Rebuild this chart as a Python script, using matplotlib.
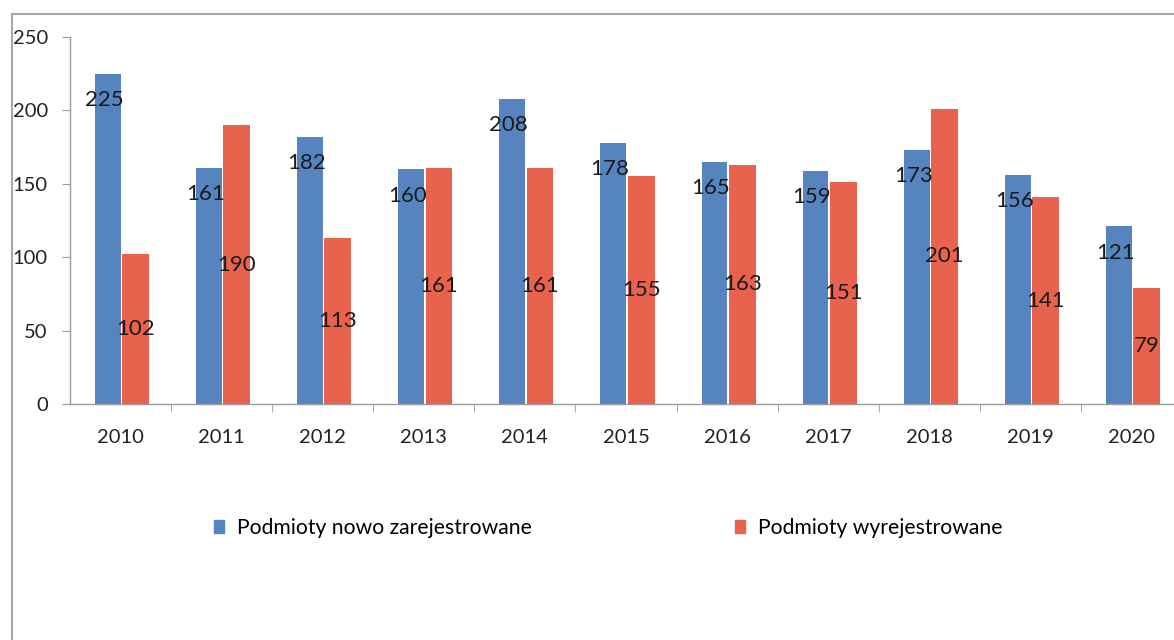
import matplotlib.pyplot as plt
from matplotlib.patches import Rectangle
import numpy as np

plt.rcParams['font.family'] = ['Lato', 'DejaVu Sans']

years = ['2010', '2011', '2012', '2013', '2014', '2015',
         '2016', '2017', '2018', '2019', '2020']
registered = [225, 161, 182, 160, 208, 178, 165, 159, 173, 156, 121]
deregistered = [102, 190, 113, 161, 161, 155, 163, 151, 201, 141, 79]

blue = '#5584BF'
red = '#E9624D'
gray = '#9a9a9a'

fig = plt.figure(figsize=(11.74, 6.4), dpi=100)
ax = fig.add_axes([70 / 1174, 1 - 404 / 640, 1112 / 1174, 367 / 640])

x = np.arange(len(years))
ax.bar(x - 0.125, registered, width=0.255, color=blue, zorder=2)
ax.bar(x + 0.15, deregistered, width=0.265, color=red, zorder=2)

for xi, v in zip(x, registered):
    ax.text(xi - 0.16, v - 18, str(v), ha='center', va='center',
            fontsize=16, color='#1a1a1a', zorder=3)
for xi, v in zip(x, deregistered):
    ax.text(xi + 0.15, v / 2, str(v), ha='center', va='center',
            fontsize=16, color='#1a1a1a', zorder=3)

ax.set_xlim(-0.5, len(years) - 0.5)
ax.set_ylim(0, 250)
ax.set_yticks(range(0, 251, 50))
ax.set_xticks(x)
ax.set_xticklabels(years)
ax.set_xticks(np.arange(0.5, len(years) - 0.5, 1), minor=True)
ax.tick_params(axis='x', which='major', length=0, pad=18, labelsize=14.5,
               labelcolor='#222222')
ax.tick_params(axis='x', which='minor', length=6, color=gray, direction='out')
ax.tick_params(axis='y', length=6, color=gray, direction='out', pad=10,
               labelsize=14.5, labelcolor='#222222')
for s in ['top', 'right']:
    ax.spines[s].set_visible(False)
for s in ['left', 'bottom']:
    ax.spines[s].set_color(gray)
    ax.spines[s].set_linewidth(1)

# outer frame of the chart area
fig.patches.append(Rectangle((12 / 1174, -0.05), 1.1, 1 - 14 / 640 + 0.05,
                             transform=fig.transFigure, fill=False,
                             edgecolor='#a8a8a8', linewidth=1.5))

h1 = Rectangle((0, 0), 1, 1, color=blue)
h2 = Rectangle((0, 0), 1, 1, color=red)
fig.legend([h1, h2], ['Podmioty nowo zarejestrowane', 'Podmioty wyrejestrowane'],
           loc='center', bbox_to_anchor=(608 / 1174, 1 - 528 / 640), ncol=2,
           frameon=False, fontsize=15.2, handlelength=0.5, handleheight=0.5,
           handletextpad=0.6, columnspacing=9.6)

fig.savefig('out.png', dpi=100)
